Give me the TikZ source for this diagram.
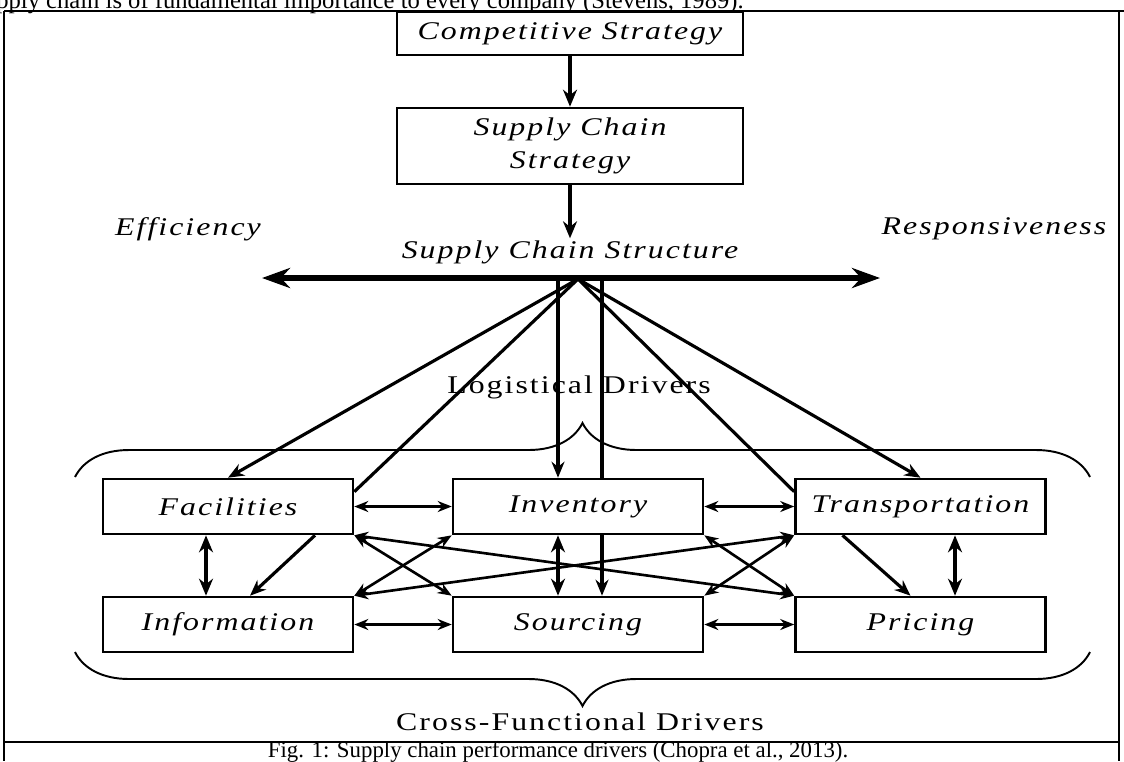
\documentclass[tikz,border=0pt]{standalone}
\usepackage{fontspec}
\setmainfont{Liberation Serif}
\newfontfamily\drvfont[FakeStretch=1.25, LetterSpace=8]{Liberation Serif}
\usetikzlibrary{arrows.meta,calc,decorations.pathreplacing}
\tikzset{
  box/.style={draw, line width=1.5pt, fill=white, minimum width=5cm, minimum height=1.1cm,
              inner sep=0pt, align=center, font=\drvfont\itshape\fontsize{14.5}{19}\selectfont},
  topbox/.style={box, minimum width=6.92cm},
  lab/.style={inner sep=1pt, font=\drvfont\itshape\fontsize{14.5}{19}\selectfont},
  grp/.style={inner sep=1pt, font=\drvfont\fontsize{14.5}{19}\selectfont},
  txt/.style={inner sep=0pt, font=\fontsize{13}{15}\selectfont},
  thk/.style={-{Stealth[length=3.4mm, width=2.8mm]}, line width=2pt},
  arr/.style={-{Stealth[length=3.2mm, width=2.6mm]}, line width=1.8pt},
  ln/.style={line width=1.8pt},
  dbl/.style={{Stealth[length=2.8mm, width=2.2mm]}-{Stealth[length=2.8mm, width=2.2mm]}, line width=1.5pt},
  dblthk/.style={{Stealth[length=3.4mm, width=2.8mm]}-{Stealth[length=3.4mm, width=2.8mm]}, line width=2.2pt},
  bar/.style={{Stealth[length=5.6mm, width=4mm]}-{Stealth[length=5.6mm, width=4mm]}, line width=3.6pt},
  brc/.style={decorate, decoration={brace, amplitude=1.08cm}, line width=1.1pt},
  rule/.style={line width=0.9pt}
}

\begin{document}
\begin{tikzpicture}[x=0.02cm, y=-0.02cm]
  \useasboundingbox (0,0) rectangle (1124,761);
  \draw[rule] (4,11) -- (1124,11);
  \draw[rule] (4,11) -- (4,761);
  \draw[rule] (1119,11) -- (1119,761);
  \draw[rule] (4,742) -- (1119,742);
  \node[txt, anchor=base west, font=\fontsize{14}{16}\selectfont] (prev) at (-4,8) {pply chain is of fundamental importance to every company (Stevens, 1989).};

  \node[topbox, minimum height=0.86cm] (comp) at (570,33.5) {Competitive Strategy};
  \node[topbox, minimum height=1.52cm] (scs) at (570,146) {Supply Chain\\Strategy};
  \node[lab] (struct) at (570,252) {Supply Chain Structure};
  \node[lab] (eff) at (188,229) {Efficiency};
  \node[lab] (resp) at (994,229) {Responsiveness};
  \coordinate (barL) at (262,278);
  \coordinate (barR) at (880,278);
  \coordinate (hub) at (578,279);

  \node[box] (fac) at (228,506.5) {Facilities};
  \node[box] (inv) at (578,506.5) {Inventory};
  \node[box] (trans) at (920.5,506.5) {Transportation};
  \node[box] (info) at (228,624.5) {Information};
  \node[box] (src) at (578,624.5) {Sourcing};
  \node[box] (price) at (920.5,624.5) {Pricing};

  \node[grp] (logi) at (579,387) {Logistical Drivers};
  \node[grp] (cross) at (580,722) {Cross-Functional Drivers};
  \node[txt] (cap) at (558,752) {Fig. 1: Supply chain performance drivers (Chopra et al., 2013).};

  \draw[brc] (75,477) -- (1090,477);
  \draw[brc] (1090,652) -- (75,652);

  \draw[thk] (comp) -- (scs);
  \draw[thk] (scs) -- (struct);
  \draw[bar] (barL) -- (barR);

  \coordinate (invA) at ($(inv.north)+(-20,0)$);
  \coordinate (invB) at ($(inv.north)+(24,0)$);
  \draw[arr] (hub) -- (fac.north);
  \draw[ln] (hub) -- ($(fac.north east)+(0,14)$);
  \draw[arr] ($(fac.south)+(87,0)$) -- ($(info.north)+(22,0)$);
  \draw[arr] (invA |- hub) -- (invA);
  \draw[ln] (invB |- hub) -- (invB);
  \draw[arr] ($(inv.south)+(24,0)$) -- ($(src.north)+(24,0)$);
  \draw[ln] (hub) -- ($(trans.north west)+(0,14)$);
  \draw[arr] ($(trans.south)+(-78,0)$) -- ($(price.north)+(-10,0)$);
  \draw[arr] (hub) -- (trans.north);

  \draw[dbl] (fac) -- (inv);
  \draw[dbl] (inv) -- (trans);
  \draw[dbl] (info) -- (src);
  \draw[dbl] (src) -- (price);
  \draw[dblthk] ($(fac.south)+(-22,0)$) -- ($(info.north)+(-22,0)$);
  \draw[dblthk] ($(inv.south)+(-20,0)$) -- ($(src.north)+(-20,0)$);
  \draw[dblthk] ($(trans.south)+(34.5,0)$) -- ($(price.north)+(34.5,0)$);

  \draw[dbl] (fac.south east) -- (price.north west);
  \draw[dbl] (fac.south east) -- (src.north west);
  \draw[dbl] (inv.south west) -- (info.north east);
  \draw[dbl] (trans.south west) -- (info.north east);
  \draw[dbl] (inv.south east) -- (price.north west);
  \draw[dbl] (src.north east) -- (trans.south west);
\end{tikzpicture}
\end{document}
